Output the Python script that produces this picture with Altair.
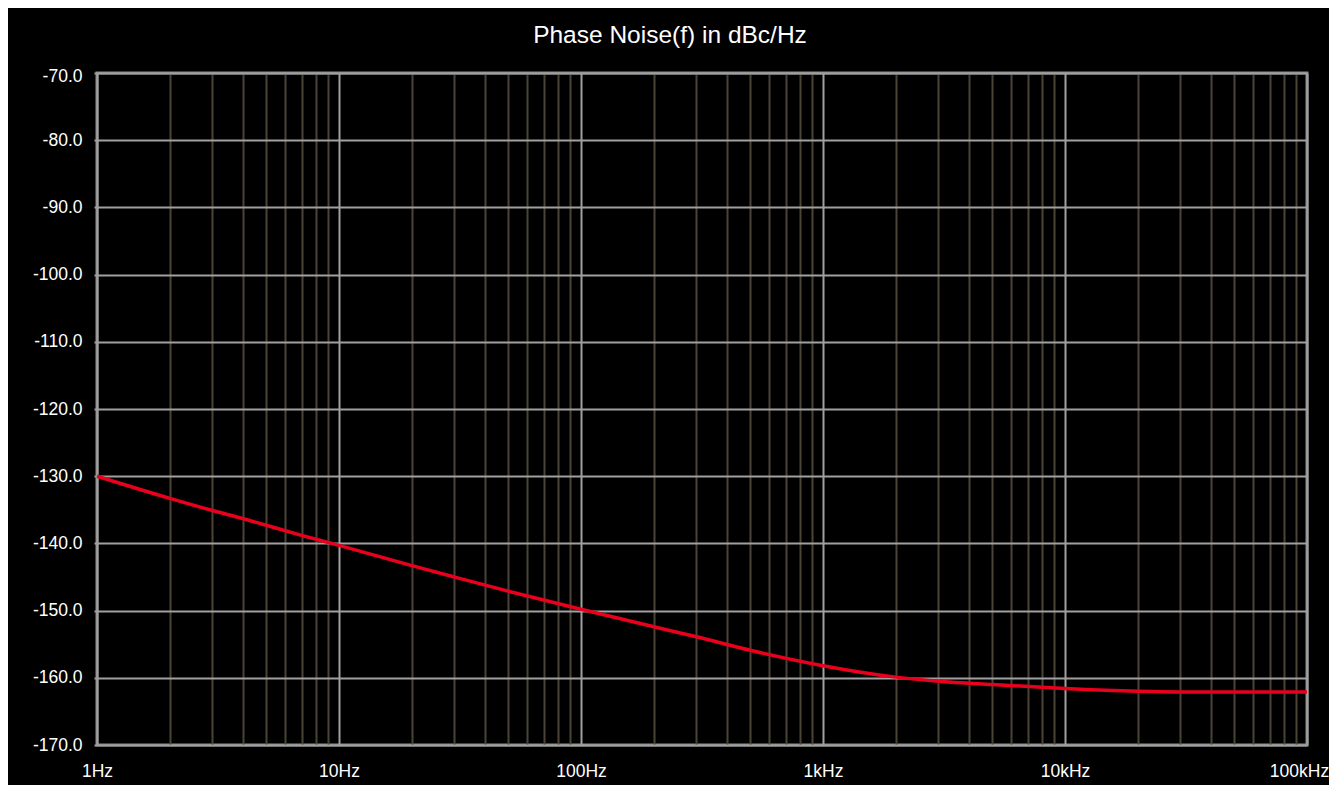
import altair as alt
import pandas as pd

# Data
freq_hz = [1, 2, 3, 4, 5, 7, 10, 20, 30, 50, 100, 200, 300, 500, 1000, 2000, 3000, 5000,
           10000, 20000, 30000, 50000, 100000]
phase_noise_dbc = [-130.0, -133.3, -135.1, -136.3, -137.3, -138.8, -140.3, -143.3, -145.0,
                   -147.1, -149.8, -152.4, -153.9, -155.9, -158.2, -159.9, -160.5, -161.0,
                   -161.6, -162.0, -162.1, -162.1, -162.1]

major_ticks = [1, 10, 100, 1000, 10000, 100000]
minor_ticks = [m * d for d in [1, 10, 100, 1000, 10000] for m in range(2, 10)]
y_ticks = [-170, -160, -150, -140, -130, -120, -110, -100, -90, -80, -70]

df = pd.DataFrame({"f": freq_hz, "pn": phase_noise_dbc})

FONT = "Liberation Sans"
MAJOR_TEST = "indexof([1,10,100,1000,10000,100000], datum.value) >= 0"

x_axis = alt.Axis(
    values=sorted(major_ticks + minor_ticks),
    labelExpr=("datum.value==1?'1Hz':datum.value==10?'10Hz':datum.value==100?'100Hz':"
               "datum.value==1000?'1kHz':datum.value==10000?'10kHz':"
               "datum.value==100000?'100kHz':''"),
    gridColor={"condition": {"test": MAJOR_TEST, "value": "#a0a0a0"}, "value": "#4a4336"},
    gridWidth=2,
    labelOffset={"condition": {"test": "datum.value == 100000", "value": -8}, "value": 0},
    ticks=False,
    domain=False,
    labelColor="white",
    labelFontSize=17.5,
    labelFont=FONT,
    labelPadding=17,
    labelOverlap=False,
    labelFlush=False,
    title=None,
)

y_axis = alt.Axis(
    values=y_ticks,
    labelExpr="'-' + format(abs(datum.value), '.1f')",
    labelOffset={"condition": {"test": "datum.value == -70", "value": 3}, "value": 0},
    gridColor="#a0a0a0",
    gridWidth=2,
    tickColor="#a0a0a0",
    tickSize=3,
    tickWidth=2,
    domain=False,
    labelColor="white",
    labelFontSize=17.5,
    labelFont=FONT,
    labelPadding=12,
    title=None,
)

line = alt.Chart(df).mark_line(color="#e8001c", strokeWidth=3.5, interpolate="monotone").encode(
    x=alt.X("f:Q", scale=alt.Scale(type="log", domain=[1, 100000], nice=False), axis=x_axis),
    y=alt.Y("pn:Q", scale=alt.Scale(domain=[-170, -70], nice=False, zero=False), axis=y_axis),
)

chart = line.properties(
    width=1210,
    height=672,
    background="black",
    autosize=alt.AutoSizeParams(type="none"),
    padding={"left": 89, "top": 65, "right": 22, "bottom": 40},
    title=alt.TitleParams(
        "Phase Noise(f) in dBc/Hz",
        color="white",
        fontSize=24.5,
        font=FONT,
        fontWeight="normal",
        anchor="middle",
        dx=-32,
        offset=19,
    ),
).configure_view(
    stroke="#8c8c8c",
    strokeWidth=3,
)

chart.save("out.html", embed_options={"renderer": "svg", "actions": False})
